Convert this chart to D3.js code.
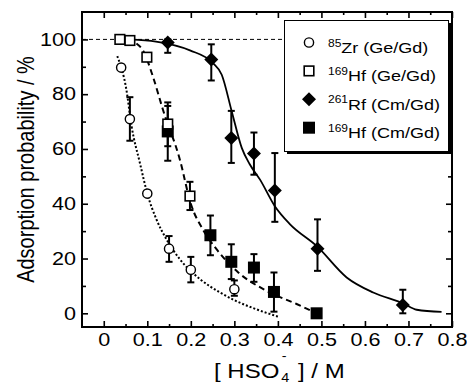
<!DOCTYPE html>
<html lang="en">
<head>
<meta charset="UTF-8">
<title>Adsorption probability</title>
<script src="https://cdn.jsdelivr.net/npm/d3@7"></script>
<style>
    body { margin: 0; background: #fff; }
    svg text { font-family: Arial, "Liberation Sans", sans-serif; fill: #000; }
</style>
</head>
<body>
<div id="chart"></div>
<script>
    // data: [HSO4-] in M, adsorption in %, error bar [low, high]
    const zrX = [0.04, 0.06, 0.10, 0.15, 0.20, 0.30]
    const zrY = [89.7, 70.9, 43.7, 23.6, 15.9, 8.8]
    const zrErr = [null, [63, 78.9], null, [18.8, 28.2], [11.3, 20.6], [6.4, 12]]

    const hfGeX = [0.037, 0.06, 0.099, 0.147, 0.198]
    const hfGeY = [100, 99.6, 93.5, 69.1, 42.8]
    const hfGeErr = [null, null, null, [61, 77], [37.7, 48]]

    const rfX = [0.147, 0.247, 0.293, 0.345, 0.393, 0.491, 0.687]
    const rfY = [98.9, 92.7, 64, 58.3, 44.8, 23.6, 3]
    const rfErr = [[95.1, 100], [85, 98.2], [54.9, 73.9], [50.6, 66], [33.4, 58.5], [15.5, 34.3], [0, 8.6]]

    const hfCmX = [0.147, 0.245, 0.293, 0.345, 0.391, 0.489]
    const hfCmY = [66.4, 28.5, 18.8, 16.7, 7.8, 0]
    const hfCmErr = [[55.7, 75.7], [21.2, 35.7], [12.5, 25.2], [11.5, 21.6], [0.6, 14.9], null]

    // fitted curves
    const zrFit = [[0.031,93.9],[0.052,81.6],[0.064,68.2],[0.083,54.9],[0.1,43.7],[0.121,34.3],[0.144,27],[0.175,19.7],[0.221,12.5],[0.267,7.6],[0.3,4.8],[0.35,1.5],[0.4,-1.2]]
    const hfFit = [[0.075,98.5],[0.09,96],[0.113,86.4],[0.136,74.3],[0.175,56],[0.2,40],[0.23,30],[0.259,23.4],[0.309,14.9],[0.374,8.2],[0.443,3.4],[0.489,0]]
    const rfFit = [[0.06,100],[0.12,99.2],[0.198,96],[0.251,91.3],[0.271,87.1],[0.294,73.7],[0.317,60.4],[0.335,54.5],[0.359,48.8],[0.393,39.1],[0.428,32.5],[0.489,24.6],[0.558,13.1],[0.619,7.6],[0.688,3.6],[0.719,1.3],[0.776,0.5]]

    const xTicks = [0, 0.1, 0.2, 0.3, 0.4, 0.5, 0.6, 0.7, 0.8]
    const yTicks = [0, 20, 40, 60, 80, 100]

    const legendIso = ["85", "169", "261", "169"]
    const legendEl = ["Zr (Ge/Gd)", "Hf (Ge/Gd)", "Rf (Cm/Gd)", "Hf (Cm/Gd)"]

    const width = 467, height = 385
    const mLeft = 82, mRight = 452, mTop = 12, mBottom = 327
    const stretch = 1.2   // the original lettering is wider than it is tall

    const svg = d3.select("#chart").append("svg")
        .attr("width", width).attr("height", height)

    const x = d3.scaleLinear().domain([-0.05, 0.8]).range([mLeft, mRight])
    const y = d3.scaleLinear().domain([-5, 110]).range([mBottom, mTop])

    // ticks, all pointing inward
    const minorX = d3.range(0.05, 0.8, 0.1)
    const minorY = d3.range(10, 110, 20)

    svg.append("g").attr("transform", `translate(0,${mBottom})`)
        .call(d3.axisBottom(x).tickValues(xTicks).tickSize(-6).tickFormat(d3.format(".1~f")).tickPadding(6))
    svg.append("g").attr("transform", `translate(0,${mBottom})`)
        .call(d3.axisBottom(x).tickValues(minorX).tickSize(-3).tickFormat(""))
    svg.append("g").attr("transform", `translate(0,${mTop})`)
        .call(d3.axisTop(x).tickValues(xTicks).tickSize(-6).tickFormat(""))
    svg.append("g").attr("transform", `translate(0,${mTop})`)
        .call(d3.axisTop(x).tickValues(minorX).tickSize(-3).tickFormat(""))
    const yAxis = svg.append("g").attr("transform", `translate(${mLeft},0)`)
        .call(d3.axisLeft(y).tickValues(yTicks).tickSize(-6).tickPadding(5))
    svg.append("g").attr("transform", `translate(${mLeft},0)`)
        .call(d3.axisLeft(y).tickValues(minorY).tickSize(-4).tickFormat(""))
    svg.append("g").attr("transform", `translate(${mRight},0)`)
        .call(d3.axisRight(y).tickValues(yTicks).tickSize(-6).tickFormat(""))
    svg.append("g").attr("transform", `translate(${mRight},0)`)
        .call(d3.axisRight(y).tickValues(minorY).tickSize(-4).tickFormat(""))

    svg.selectAll(".domain").remove()
    svg.selectAll(".tick line").attr("stroke", "#000").attr("stroke-width", 1.6)
    svg.selectAll(".tick text").attr("font-size", 18).attr("fill", "#000")
        .attr("transform", `scale(${stretch},1)`)
    yAxis.selectAll(".tick text").attr("x", -6 / stretch)

    svg.append("rect")
        .attr("x", mLeft).attr("y", mTop)
        .attr("width", mRight - mLeft).attr("height", mBottom - mTop)
        .attr("fill", "none").attr("stroke", "#000").attr("stroke-width", 2)

    // 100 % reference line
    svg.append("line")
        .attr("x1", mLeft).attr("x2", 286)
        .attr("y1", y(100)).attr("y2", y(100))
        .attr("stroke", "#000").attr("stroke-width", 1).attr("stroke-dasharray", "4,3")

    // fits
    const line = d3.line().x(d => x(d[0])).y(d => y(d[1])).curve(d3.curveMonotoneX)
    svg.append("path").attr("d", line(zrFit)).attr("fill", "none")
        .attr("stroke", "#000").attr("stroke-width", 2).attr("stroke-dasharray", "2,2")
    svg.append("path").attr("d", line(hfFit)).attr("fill", "none")
        .attr("stroke", "#000").attr("stroke-width", 2).attr("stroke-dasharray", "6,4")
    svg.append("path").attr("d", line(rfFit)).attr("fill", "none")
        .attr("stroke", "#000").attr("stroke-width", 1.8)

    // error bars
    function errorBars(xs, errs) {
        const g = svg.append("g").attr("stroke", "#000").attr("stroke-width", 2)
        errs.forEach((e, i) => {
            if (!e) return
            const cx = x(xs[i])
            g.append("line").attr("x1", cx).attr("x2", cx).attr("y1", y(e[0])).attr("y2", y(e[1]))
            g.append("line").attr("x1", cx - 3.5).attr("x2", cx + 3.5).attr("y1", y(e[0])).attr("y2", y(e[0]))
            g.append("line").attr("x1", cx - 3.5).attr("x2", cx + 3.5).attr("y1", y(e[1])).attr("y2", y(e[1]))
        })
    }
    errorBars(zrX, zrErr)
    errorBars(hfGeX, hfGeErr)
    errorBars(rfX, rfErr)
    errorBars(hfCmX, hfCmErr)

    // markers
    function marker(g, kind) {
        if (kind === "circle") {
            g.append("circle").attr("r", 4.6).attr("fill", "#fff").attr("stroke", "#000").attr("stroke-width", 1.4)
        } else if (kind === "square") {
            g.append("rect").attr("x", -4.8).attr("y", -4.8).attr("width", 9.6).attr("height", 9.6)
                .attr("fill", "#fff").attr("stroke", "#000").attr("stroke-width", 1.6)
        } else if (kind === "diamond") {
            g.append("path").attr("d", "M0,-7L7,0L0,7L-7,0Z").attr("fill", "#000")
        } else {
            g.append("rect").attr("x", -6).attr("y", -6).attr("width", 12).attr("height", 12).attr("fill", "#000")
        }
    }
    function points(xs, ys, kind) {
        xs.forEach((v, i) => {
            const g = svg.append("g").attr("transform", `translate(${x(v)},${y(ys[i])})`)
            marker(g, kind)
        })
    }
    points(zrX, zrY, "circle")
    points(hfCmX, hfCmY, "filled")
    points(hfGeX, hfGeY, "square")
    points(rfX, rfY, "diamond")

    // legend
    const lg = svg.append("g")
    lg.append("rect").attr("x", 287).attr("y", 23).attr("width", 164).attr("height", 131).attr("fill", "#000")
    lg.append("rect").attr("x", 284.5).attr("y", 20.5).attr("width", 164).attr("height", 131)
        .attr("fill", "#fff").attr("stroke", "#000").attr("stroke-width", 1)
    const kinds = ["circle", "square", "diamond", "filled"]
    legendEl.forEach((t, i) => {
        const base = 53 + i * 28.4
        const g = lg.append("g").attr("transform", `translate(309,${base - 10.5})`)
        marker(g, kinds[i])
        const txt = lg.append("text")
            .attr("transform", `translate(328,${base}) scale(${stretch},1)`)
            .attr("font-size", 15)
        txt.append("tspan").attr("font-size", 10).attr("dy", -6.5).text(legendIso[i])
        txt.append("tspan").attr("dy", 6.5).text(t)
    })

    // axis titles
    svg.append("text")
        .attr("transform", `translate(34,${(mTop + mBottom) / 2}) rotate(-90) scale(1,${stretch})`)
        .attr("text-anchor", "middle").attr("font-size", 20)
        .text("Adsorption probability / %")

    const xt = svg.append("g").attr("transform", `translate(214,377.7) scale(${stretch},1)`)
    xt.append("text").attr("font-size", 20).text("[ HSO")
    xt.append("text").attr("x", 56).attr("y", 4.6).attr("font-size", 12).text("4")
    xt.append("text").attr("x", 56.5).attr("y", -17.5).attr("font-size", 12).text("-")
    xt.append("text").attr("x", 70).attr("font-size", 20).text("] / M")
</script>
</body>
</html>
